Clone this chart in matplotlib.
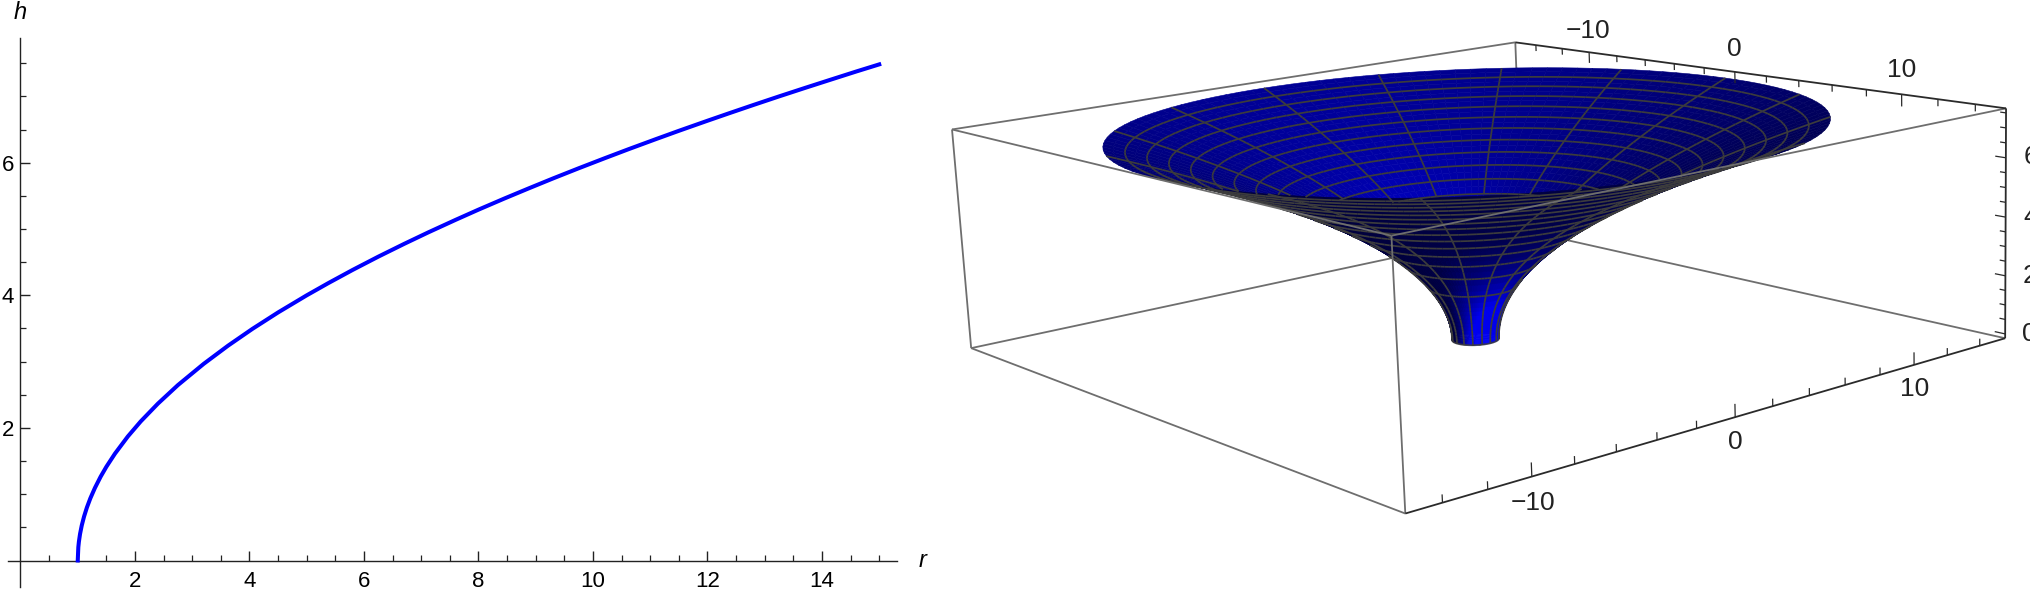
"""Courbe h(r) et surface de révolution correspondante (vue en perspective)."""

import numpy as np
import matplotlib
matplotlib.use('Agg')
import matplotlib.pyplot as plt
from matplotlib.ticker import FixedLocator
from mpl_toolkits.mplot3d.art3d import Line3DCollection

plt.rcParams['font.family'] = ['Liberation Sans', 'DejaVu Sans']

W, H = 2031, 591

# valeurs
r_values = [1, 1.01, 1.02, 1.04, 1.07, 1.11, 1.16, 1.22, 1.3, 1.4, 1.5, 1.65,
            1.875, 2.1, 2.4, 2.75, 3.2, 3.625, 4.05, 4.5, 5, 5.375, 5.8, 6.25,
            6.7, 7.125, 7.6, 8, 8.45, 8.875, 9.3, 9.75, 10.2, 10.625, 11.1,
            11.5, 12, 12.375, 12.8, 13.25, 13.7, 14.125, 14.6, 15]
h_values = [0, 0.2, 0.283, 0.4, 0.529, 0.663, 0.8, 0.938, 1.095, 1.265, 1.414,
            1.612, 1.871, 2.098, 2.366, 2.646, 2.966, 3.24, 3.493, 3.742, 4,
            4.183, 4.382, 4.583, 4.775, 4.95, 5.138, 5.292, 5.459, 5.612, 5.762,
            5.916, 6.066, 6.205, 6.356, 6.481, 6.633, 6.745, 6.87, 7.0, 7.127,
            7.245, 7.376, 7.483]
ring_r = [1, 1.875, 2.75, 3.625, 4.5, 5.375, 6.25, 7.125, 8, 8.875, 9.75,
          10.625, 11.5, 12.375, 13.25, 14.125]
r_ticks = [2, 4, 6, 8, 10, 12, 14]
r_minor = [0.5, 1, 1.5, 2.5, 3, 3.5, 4.5, 5, 5.5, 6.5, 7, 7.5, 8.5, 9, 9.5,
           10.5, 11, 11.5, 12.5, 13, 13.5, 14.5, 15]
h_ticks = [2, 4, 6]
h_minor = [0.5, 1, 1.5, 2.5, 3, 3.5, 4.5, 5, 5.5, 6.5, 7, 7.5]
xy_major = [-10, 0, 10]
xy_minor = [-14, -12, -8, -6, -4, -2, 2, 4, 6, 8, 12, 14]
z_major = [0, 2, 4, 6]
z_minor = [0.5, 1, 1.5, 2.5, 3, 3.5, 4.5, 5, 5.5, 6.5, 7, 7.5]

# limites de la boite et position de ses coins dans l'image
L = 15.6
Z0, Z1 = -0.15, 7.65
box_world = [(-L, -L, Z0), (L, -L, Z0), (L, L, Z0), (-L, L, Z0),
             (-L, -L, Z1), (L, -L, Z1), (L, L, Z1), (-L, L, Z1)]
box_pixels = [(971, 347), (1405, 514), (2005, 338), (1523, 231),
              (952, 130), (1392, 236), (2006, 108), (1515, 42)]

BLUE = '#0000FF'
MESH = '#3C3C3C'
GREY = '#6E6E6E'
DARK = '#2A2A2A'
TEXT = '#222222'

fig = plt.figure(figsize=(W / 100, H / 100), dpi=100)
fig.patch.set_facecolor('white')

# ---------- panneau de gauche : h(r) ----------
X0, Y0, SX, SY = 20.5, 560.5, 57.25, 66.3
ax_w = 950
ax = fig.add_axes([0, 0, ax_w / W, 1])
ax.set_xlim(-X0 / SX, (ax_w - X0) / SX)
ax.set_ylim((Y0 - H) / SY, Y0 / SY)
ax.patch.set_visible(False)
ax.plot(r_values, h_values, color=BLUE, lw=2.9, clip_on=False, zorder=3)

for name in ('top', 'right'):
    ax.spines[name].set_visible(False)
ax.spines['left'].set_position('zero')
ax.spines['bottom'].set_position('zero')
ax.spines['left'].set_bounds(-0.4, 7.88)
ax.spines['bottom'].set_bounds(-0.22, 15.31)
for name in ('left', 'bottom'):
    ax.spines[name].set_linewidth(1.0)
    ax.spines[name].set_color(TEXT)
ax.set_xticks(r_ticks, [str(v) for v in r_ticks])
ax.set_yticks(h_ticks, [str(v) for v in h_ticks])
ax.xaxis.set_minor_locator(FixedLocator(r_minor))
ax.yaxis.set_minor_locator(FixedLocator(h_minor))
ax.tick_params(which='major', direction='in', length=7.5, width=1.0, labelsize=16,
               color=TEXT)
ax.tick_params(which='minor', direction='in', length=4.5, width=0.9, color=TEXT)
ax.tick_params(axis='x', which='major', pad=7.5)
ax.tick_params(axis='y', which='major', pad=4.5)
ax.text(15.76, 0, 'r', style='italic', fontsize=17, ha='center', va='center')
ax.text(0, 8.27, 'h', style='italic', fontsize=17, ha='center', va='center')


def fit_camera(world, pixels):
    """Matrice de projection 3x4 ajustée sur les coins de la boite."""
    rows = []
    for (x, y, z), (u, v) in zip(world, pixels):
        rows.append([x, y, z, 1, 0, 0, 0, 0, -u * x, -u * y, -u * z, -u])
        rows.append([0, 0, 0, 0, x, y, z, 1, -v * x, -v * y, -v * z, -v])
    P = np.linalg.svd(np.array(rows, dtype=float))[2][-1].reshape(3, 4)
    w = P[2, :3] @ np.array(world).T + P[2, 3]
    return P / w.mean()


P = fit_camera(box_world, box_pixels)
cam = np.linalg.svd(P)[2][-1]
cam = cam[:3] / cam[3]
M = np.vstack([P[0], P[1], [0, 0, 0, -1], P[2]])

# ---------- panneau de droite : surface ----------
ax3 = fig.add_axes([700 / W, 0, (W - 700) / W, 1], projection='3d',
                   computed_zorder=False)
ax3.set_axis_off()
ax3.patch.set_visible(False)
ax3.set_xticks([])
ax3.set_yticks([])
ax3.set_zticks([])
ax3.get_proj = lambda: M
ax3.apply_aspect = lambda *a, **k: None

r_arr = np.array(r_values)
h_arr = np.array(h_values)
theta = np.linspace(0, 2 * np.pi, 129)
R, T = np.meshgrid(r_arr, theta, indexing='ij')
X = R * np.cos(T)
Y = R * np.sin(T)
Z = np.tile(h_arr[:, None], (1, theta.size))


def is_visible(pts):
    """Un point est caché si le rayon vers la caméra retraverse la surface."""
    s = np.geomspace(0.004, 1, 60)[None, :, None]
    q = pts[:, None, :] + s * (cam - pts[:, None, :])
    z = q[..., 2]
    f = np.hypot(q[..., 0], q[..., 1]) - np.interp(z, h_arr, r_arr)
    f = np.where((z > 0) & (z < h_arr[-1]), f, np.nan)
    first = f[:, 0]
    crossed = np.nan_to_num(f * np.sign(first)[:, None], nan=1.0) < -0.02
    return ~crossed.any(axis=1)


def label3d(x, y, z, text):
    """Texte placé au point projeté (le 2D donne sa vraie position à l'artiste)."""
    u, v, w = P @ np.array([x, y, z, 1.0])
    ax3.text2D(u / w, v / w, text, transform=ax3.transData, fontsize=19,
               ha='center', va='center', color=TEXT, clip_on=False)


# couleur de chaque facette : normale tournée vers la caméra
c = np.stack([X, Y, Z], axis=-1)
du = c[1:, :-1] - c[:-1, :-1] + c[1:, 1:] - c[:-1, 1:]
dv = c[:-1, 1:] - c[:-1, :-1] + c[1:, 1:] - c[1:, :-1]
normal = np.cross(du, dv)
normal /= np.linalg.norm(normal, axis=-1, keepdims=True)
centre = (c[1:, 1:] + c[:-1, :-1]) / 2
normal *= np.sign(((cam - centre) * normal).sum(axis=-1, keepdims=True))

front = np.array([1, -1, 0]) / np.sqrt(2)
right = np.array([1, 1, 0]) / np.sqrt(2)
up = np.array([0, 0, 1])
key = np.cos(np.radians(40)) * front + np.sin(np.radians(40)) * right
fill = front + 0.75 * right + 0.5 * up
spot = np.clip(normal @ key, 0, None) ** 2.5
blue = np.clip(60 + 175 * spot + 103 * np.clip(normal @ fill, 0, None), 55, 240) / 255
colors = np.zeros(blue.shape + (4,))
colors[..., 2] = blue
colors[..., 3] = 1

surf = ax3.plot_surface(X, Y, Z, rstride=1, cstride=1, facecolors=colors,
                        shade=False, linewidth=0.4, antialiased=True, zorder=2)
surf.set_edgecolors(colors.reshape(-1, 4))

# lignes du maillage, découpées puis filtrées
segs = []
for i in np.flatnonzero(np.isin(r_arr, ring_r)):
    line = c[i]
    segs += [line[j:j + 2] for j in range(len(theta) - 1)]
for j in range(0, len(theta) - 1, 8):
    line = c[:, j]
    segs += [line[i:i + 2] for i in range(len(r_arr) - 1)]
segs = np.array(segs)
keep = is_visible(segs.mean(axis=1))
ax3.add_collection3d(Line3DCollection(segs[keep], colors=MESH, linewidths=1.25, zorder=3),
                     autolim=False)

# boite
corners = np.array(box_world)
behind = [(0, 3), (2, 3), (3, 7), (4, 7)]
grey_front = [(0, 1), (0, 4), (1, 5), (4, 5), (5, 6)]
black = [(7, 6), (2, 6), (1, 2)]
for pairs, col, lw, zo in ((behind, GREY, 1.3, 1), (grey_front, GREY, 1.3, 4),
                           (black, DARK, 1.3, 4)):
    lc = Line3DCollection([corners[[a, b]] for a, b in pairs], colors=col,
                          linewidths=lw, zorder=zo)
    ax3.add_collection3d(lc, autolim=False)

# graduations sur les trois arêtes noires
ticks = []
for v, size in [(v, 0.42) for v in xy_major] + [(v, 0.24) for v in xy_minor]:
    ticks.append([(v, L, Z1), (v, L, Z1 - size)])
    ticks.append([(L, v, Z0), (L, v, Z0 + size)])
for v, size in [(v, 0.55) for v in z_major] + [(v, 0.3) for v in z_minor]:
    ticks.append([(L, L, v), (L - size, L, v)])
ax3.add_collection3d(Line3DCollection(ticks, colors=DARK, linewidths=0.9, zorder=4),
                     autolim=False)

for v in xy_major:
    label = str(v).replace('-', '\u2212')
    label3d(v, L, Z1 + 0.85, label)
    label3d(L, v, Z0 - 0.8, label)
for v in z_major:
    label3d(L + 0.7, L + 0.7, v, str(v))

ax3.viewLim.intervalx = (700, W)
ax3.viewLim.intervaly = (H, 0)

fig.savefig('out.png', dpi=100, facecolor='white')
